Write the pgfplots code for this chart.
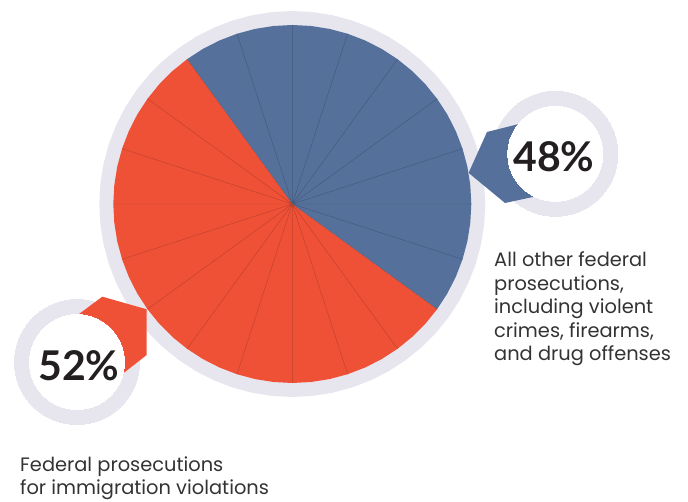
\documentclass[border=0pt]{standalone}
\usepackage{pgfplots}
\pgfplotsset{compat=1.18}
\usepackage{fontspec}
\setmainfont{Poppins}
\newfontfamily\numfont{Lato}
\definecolor{pieblue}{HTML}{55709A}
\definecolor{piered}{HTML}{EF5137}
\definecolor{ringgray}{HTML}{E7E6EE}
\definecolor{numcol}{HTML}{231F20}
\definecolor{txtcol}{HTML}{333333}
\pgfplotsset{base/.style={
  width=688pt, height=502pt, scale only axis,
  xmin=-292.3, xmax=395.7, ymin=-298, ymax=204,
  hide axis, clip=false, at={(0,0)}, anchor=south west}}
\begin{document}
\begin{tikzpicture}
\begin{axis}[base]
% gray ring behind the pie
\addplot[fill=ringgray, draw=none, data cs=polar] coordinates {
(0,193) (6,193) (12,193) (18,193) (24,193) (30,193) (36,193) (42,193) (48,193) (54,193)
(60,193) (66,193) (72,193) (78,193) (84,193) (90,193) (96,193) (102,193) (108,193) (114,193)
(120,193) (126,193) (132,193) (138,193) (144,193) (150,193) (156,193) (162,193) (168,193) (174,193)
(180,193) (186,193) (192,193) (198,193) (204,193) (210,193) (216,193) (222,193) (228,193) (234,193)
(240,193) (246,193) (252,193) (258,193) (264,193) (270,193) (276,193) (282,193) (288,193) (294,193)
(300,193) (306,193) (312,193) (318,193) (324,193) (330,193) (336,193) (342,193) (348,193) (354,193)};
% blue slice (all other prosecutions)
\addplot[fill=pieblue, draw=none, data cs=polar] coordinates {
(0,0) (-36,179) (-30,179) (-24,179) (-18,179) (-12,179) (-6,179) (0,179) (6,179) (12,179) (18,179)
(24,179) (30,179) (36,179) (42,179) (48,179) (54,179) (60,179) (66,179) (72,179) (78,179) (84,179)
(90,179) (96,179) (102,179) (108,179) (114,179) (120,179) (126,179) (0,0)};
% red slice (immigration)
\addplot[fill=piered, draw=none, data cs=polar] coordinates {
(0,0) (126,179) (132,179) (138,179) (144,179) (150,179) (156,179) (162,179) (168,179) (174,179) (180,179)
(186,179) (192,179) (198,179) (204,179) (210,179) (216,179) (222,179) (228,179) (234,179) (240,179)
(246,179) (252,179) (258,179) (264,179) (270,179) (276,179) (282,179) (288,179) (294,179) (300,179)
(306,179) (312,179) (318,179) (324,179) (0,0)};
% thin radial dividers
\addplot[black, opacity=0.2, line width=0.45pt, data cs=polar] coordinates {
(0,0) (0,179) (0,0) (18,179) (0,0) (36,179) (0,0) (54,179) (0,0) (72,179) (0,0) (90,179)
(0,0) (108,179) (0,0) (126,179) (0,0) (144,179) (0,0) (162,179) (0,0) (180,179) (0,0) (198,179)
(0,0) (216,179) (0,0) (234,179) (0,0) (252,179) (0,0) (270,179) (0,0) (288,179) (0,0) (306,179)
(0,0) (324,179) (0,0) (342,179) (0,0)};
% callout rings (drawn as marks, after the plots of this axis)
\addplot[only marks, mark=*, mark size=62.5pt, mark options={ringgray, line width=0pt}] coordinates {(263,50.2) (-215.3,-158)};
\end{axis}
\begin{axis}[base]
% pointers
\addplot[fill=pieblue, draw=none] coordinates {(176.3,31.1) (194.7,72) (222.7,79) (232.7,81.5) (263,50.2) (247.7,8.5) (212.7,1)};
\addplot[fill=piered, draw=none] coordinates {(-145.6,-105.3) (-190,-92.7) (-219.3,-114.5) (-215.3,-158) (-174.3,-173.4) (-145.6,-151)};
% white discs
\addplot[only marks, mark=*, mark size=47.5pt, mark options={white, line width=0pt}] coordinates {(263,50.2) (-215.3,-158)};
\coordinate (p48) at (axis cs:261.5,32.3);
\coordinate (p52) at (axis cs:-213.3,-176.7);
% labels
\begin{scope}[every node/.style={anchor=base west, inner sep=0pt, text=txtcol, font=\fontsize{19.4}{23.5}\selectfont}]
\node at (axis cs:201.7,-62.7) {All other federal};
\node at (axis cs:201.7,-86.2) {prosecutions,};
\node at (axis cs:201.7,-109.7) {including violent};
\node at (axis cs:201.7,-133.2) {crimes, firearms,};
\node at (axis cs:201.7,-156.7) {and drug offenses};
\node at (axis cs:-272.3,-267.7) {Federal prosecutions};
\node at (axis cs:-272.3,-291) {for immigration violations};
\end{scope}
\end{axis}
\node[anchor=base, inner sep=0pt, text=numcol, font=\numfont\fontsize{41}{41}\selectfont\bfseries] at (p48) {48\%};
\node[anchor=base, inner sep=0pt, text=numcol, font=\numfont\fontsize{41}{41}\selectfont\bfseries] at (p52) {52\%};
\pgfresetboundingbox
\useasboundingbox (current axis.south west) rectangle (current axis.north east);
\end{tikzpicture}
\end{document}
